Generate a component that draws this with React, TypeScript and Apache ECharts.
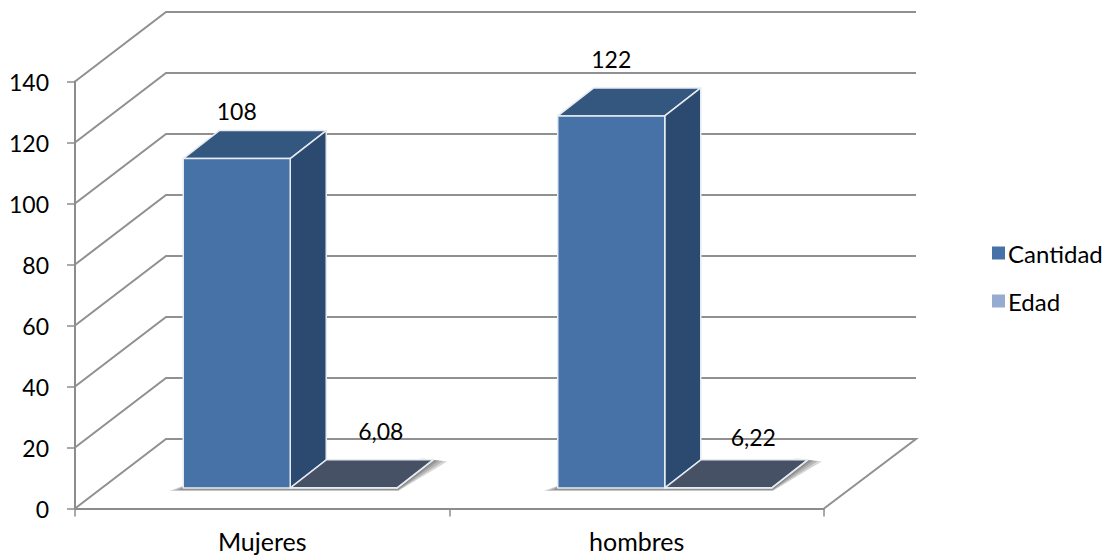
import React, { useEffect, useRef } from "react";
import * as echarts from "echarts";

const categories = ["Mujeres", "hombres"];
const seriesNames = ["Cantidad", "Edad"];
const cantidad = [108, 122];
const edad = [6.08, 6.22];
const yTicks = [0, 20, 40, 60, 80, 100, 120, 140];

const FONT = "Lato";
const AXIS_GREY = "#8c8c8c";
const EDGE = "#e6ebf2";

// Depth of the chart floor and of each column, in pixels.
const WALL_DX = 91;
const WALL_DY = 69.5;
const FLOOR_DX = 28;
const FLOOR_DY = 20.5;
const BAR_W = 107;
const BAR_DX = 36;
const BAR_DY = 28;
const SHADOW_SPREADS = [14, 10, 6, 3];

type Nudge = { dx: number; dy: number };

function prism(api: any, left: number, value: number, colors: any, label: string, nudge: Nudge) {
  const i = api.value(0);
  const base = api.coord([i, 0])[1] - FLOOR_DY;
  const top = api.coord([i, value])[1] - FLOOR_DY;
  const right = left + BAR_W;
  const poly = (points: number[][], fill: string) => ({
    type: "polygon",
    shape: { points },
    style: { fill, stroke: EDGE, lineWidth: 1.5, lineJoin: "round" },
  });
  return [
    poly([[left, top], [right, top], [right + BAR_DX, top - BAR_DY], [left + BAR_DX, top - BAR_DY]], colors.top),
    poly([[right, top], [right + BAR_DX, top - BAR_DY], [right + BAR_DX, base - BAR_DY], [right, base]], colors.side),
    poly([[left, top], [right, top], [right, base], [left, base]], colors.front),
    {
      type: "text",
      x: left + BAR_W / 2 + nudge.dx,
      y: top - nudge.dy,
      style: {
        text: label,
        fill: "#000",
        font: `23px ${FONT}`,
        align: "center",
        verticalAlign: "middle",
      },
    },
  ];
}

// Floor shadow under a category's pair of columns, built from stacked translucent layers.
function floorShadow(api: any) {
  const i = api.value(0);
  const [cx, y0] = api.coord([i, 0]);
  const left = cx - BAR_W + FLOOR_DX;
  const base = y0 - FLOOR_DY;
  const right = left + 2 * BAR_W;
  return {
    type: "group",
    children: SHADOW_SPREADS.map((g) => ({
      type: "polygon",
      shape: {
        points: [
          [left - g, base + 1 + g * 0.15],
          [right + 1, base + 1 + g * 0.15],
          [right + BAR_DX + g, base - BAR_DY + g * 0.1],
          [right + BAR_DX - 10, base - BAR_DY - g * 0.1],
          [left + 10, base - 6],
        ],
      },
      style: { fill: "rgba(70,70,70,0.22)" },
    })),
  };
}

export default function App() {
  const ref = useRef<HTMLDivElement>(null);

  useEffect(() => {
    const chart = echarts.init(ref.current!, null, { renderer: "svg" });
    const textStyle = { color: "#000", fontFamily: FONT };
    chart.setOption({
      animation: false,
      grid: { left: 75, top: 81.5, width: 749, height: 427, containLabel: false },
      legend: {
        orient: "vertical",
        left: 987,
        top: 236,
        itemWidth: 13,
        itemHeight: 13,
        itemGap: 24,
        icon: "rect",
        selectedMode: false,
        data: seriesNames,
        textStyle: { ...textStyle, fontSize: 24, padding: [0, 0, 0, -2] },
      },
      xAxis: {
        type: "category",
        data: categories,
        axisLine: { lineStyle: { color: AXIS_GREY, width: 2 } },
        axisTick: { show: true, length: 8, lineStyle: { color: AXIS_GREY, width: 1.5 } },
        axisLabel: { ...textStyle, fontSize: 25, margin: 20 },
        splitLine: { show: false },
      },
      yAxis: [
        {
          type: "value",
          min: 0,
          max: 140,
          interval: 20,
          axisLine: { show: true, lineStyle: { color: AXIS_GREY, width: 2 } },
          axisTick: { show: true, length: 8, lineStyle: { color: AXIS_GREY, width: 1.5 } },
          axisLabel: { ...textStyle, fontSize: 23, margin: 26, padding: [2, 0, 0, 0] },
          splitLine: { show: false },
        },
        // Edad is measured on its own hidden scale, which keeps its slabs flat on the floor.
        { type: "value", min: 0, max: 14000, show: false },
      ],
      series: [
        {
          type: "custom",
          name: "walls",
          silent: true,
          clip: false,
          z: 1,
          data: yTicks.map((t) => [0, t]),
          encode: { x: 0, y: 1 },
          renderItem: (_: any, api: any) => {
            const v = api.value(1);
            const y = api.coord([0, v])[1];
            const style = { stroke: "#909090", lineWidth: 2, fill: "none" };
            const x0 = 75;
            const x1 = 824;
            const children: any[] = [
              {
                type: "polyline",
                shape: {
                  points: [
                    [x0, y],
                    [x0 + WALL_DX, y - WALL_DY],
                    [x1 + WALL_DX + 1, y - WALL_DY],
                    ...(v === 0 ? [[x1, y]] : []),
                  ],
                },
                style,
              },
            ];
            return { type: "group", children };
          },
        },
        {
          type: "custom",
          name: "shadows",
          silent: true,
          clip: false,
          z: 2,
          data: categories.map((_, i) => [i, 0]),
          encode: { x: 0, y: 1 },
          renderItem: (_: any, api: any) => floorShadow(api),
        },
        {
          type: "custom",
          name: "Cantidad",
          clip: false,
          z: 3,
          itemStyle: { color: "#4672a8" },
          data: categories.map((_, i) => [i, cantidad[i]]),
          encode: { x: 0, y: 1 },
          renderItem: (_: any, api: any) => {
            const i = api.value(0);
            const v = api.value(1);
            const cx = api.coord([i, 0])[0];
            return {
              type: "group",
              children: prism(
                api,
                cx - BAR_W + FLOOR_DX,
                v,
                { front: "#4672a8", top: "#34577f", side: "#2c4a70" },
                String(v),
                i === 0 ? { dx: 0, dy: 48 } : { dx: 0, dy: 57 },
              ),
            };
          },
        },
        {
          type: "custom",
          name: "Edad",
          clip: false,
          z: 4,
          yAxisIndex: 1,
          itemStyle: { color: "#95abd0" },
          data: categories.map((_, i) => [i, edad[i]]),
          encode: { x: 0, y: 1 },
          renderItem: (_: any, api: any) => {
            const i = api.value(0);
            const v = api.value(1);
            const cx = api.coord([i, 0])[0];
            // api.coord follows this series' hidden axis, so the floor sits at its zero.
            return {
              type: "group",
              children: prism(
                api,
                cx + FLOOR_DX,
                v,
                { front: "#95abd0", top: "#475166", side: "#475166" },
                String(v).replace(".", ","),
                i === 0 ? { dx: 37, dy: 57 } : { dx: 35, dy: 51 },
              ),
            };
          },
        },
      ],
    });
    return () => chart.dispose();
  }, []);

  return (
    <div
      ref={ref}
      style={{ position: "fixed", left: 0, top: 0, width: 1106, height: 558, background: "#fff" }}
    />
  );
}
